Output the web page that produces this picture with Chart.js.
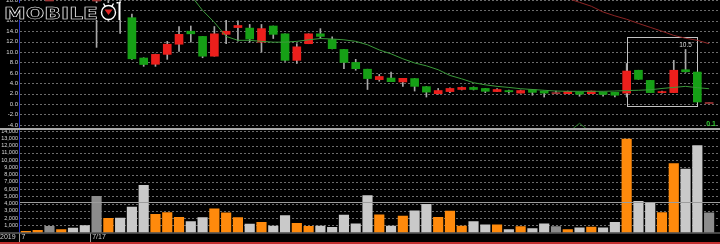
<!DOCTYPE html>
<html>
<head>
<meta charset="utf-8">
<script src="https://cdn.jsdelivr.net/npm/chart.js@4.4.1/dist/chart.umd.min.js"></script>
<style>
html, body { margin: 0; padding: 0; background: #000; }
#wrap { position: relative; width: 720px; height: 244px; overflow: hidden; background: #000; }
#price { position: absolute; left: 0; top: 0; }
#volume { position: absolute; left: 0; top: 130px; }
</style>
</head>
<body>
<div id="wrap">
  <canvas id="price" width="720" height="130"></canvas>
  <canvas id="volume" width="720" height="114"></canvas>
</div>
<script>
const dates = [
  '7/9', '7/10', '7/11', '7/12', '7/15', '7/16', '7/17', '7/18', '7/19', '7/22',
  '7/23', '7/24', '7/25', '7/26', '7/29', '7/30', '7/31', '8/1', '8/2', '8/5',
  '8/6', '8/7', '8/8', '8/9', '8/12', '8/13', '8/14', '8/15', '8/16', '8/19',
  '8/20', '8/21', '8/22', '8/23', '8/26', '8/27', '8/28', '8/29', '8/30', '9/2',
  '9/3', '9/4', '9/5', '9/6', '9/9', '9/10', '9/11', '9/12', '9/16', '9/17',
  '9/18', '9/19', '9/20', '9/23', '9/24', '9/25', '9/26', '9/27', '9/30'
];
const opens = [
  27, 28, 29, 27, 29, 26, 23, 21, 23, 16.6,
  8.85, 7.65, 9.55, 11.5, 14.0, 13.0, 9.2, 13.4, 14.7, 14.6,
  11.9, 15.0, 13.5, 8.4, 11.6, 13.5, 12.4, 10.5, 8.0, 6.7,
  4.7, 5.0, 4.25, 4.9, 3.35, 2.0, 2.4, 2.8, 3.2, 3.0,
  2.4, 2.6, 2.1, 2.75, 2.5, 2.2, 2.0, 2.3, 2.0, 2.25,
  2.25, 2.1, 6.5, 4.55, 2.2, 2.2, 6.6, 6.15, 0.3
];
const closes = [
  29, 30, 29, 29, 26, 24, 23, 23, 20.5, 8.7,
  7.6, 9.55, 11.5, 13.4, 13.5, 9.2, 13.5, 14.0, 15.1, 12.5,
  14.5, 13.4, 8.4, 11.0, 13.5, 13.0, 10.65, 8.0, 6.8, 4.9,
  5.3, 4.3, 4.95, 3.4, 2.3, 2.6, 3.0, 3.2, 2.8, 2.45,
  2.8, 2.35, 2.6, 2.25, 2.1, 2.2, 2.45, 1.9, 2.5, 1.85,
  1.7, 6.35, 4.75, 2.2, 2.4, 6.5, 6.2, 0.4, 0.3
];
const highs = [
  30, 31, 30, 29.5, 29.5, 26.5, 24, 23.5, 24, 17.3,
  8.9, 9.6, 12.05, 14.9, 15.0, 13.0, 14.9, 16.1, 16.0, 15.3,
  15.3, 15.0, 13.5, 11.6, 13.5, 14.5, 12.9, 10.5, 8.6, 6.7,
  5.7, 6.15, 4.95, 4.9, 3.35, 3.0, 3.1, 3.3, 3.3, 3.0,
  3.0, 2.7, 2.7, 2.8, 2.5, 2.5, 2.5, 2.3, 2.5, 2.25,
  2.25, 7.8, 6.5, 4.55, 2.5, 8.4, 10.5, 6.15, 0.3
];
const lows = [
  26, 27, 28, 26.5, 25, 22, 10.9, 15.9, 13.6, 8.6,
  7.25, 7.25, 8.6, 10.1, 11.9, 8.9, 9.2, 11.6, 12.1, 11.9,
  10.0, 12.6, 8.2, 7.8, 11.6, 12.6, 10.6, 6.8, 6.5, 2.8,
  4.4, 4.3, 3.4, 2.5, 1.35, 1.9, 2.2, 2.7, 2.7, 2.2,
  2.4, 2.1, 2.1, 1.7, 1.35, 2.0, 2.0, 1.5, 2.0, 1.5,
  1.35, 1.35, 4.75, 2.2, 2.1, 2.2, 6.1, 0.4, 0.3
];
const volumes = [
  150, 300, 850, 400, 600, 950, 5000, 1950, 2000, 3500,
  6500, 2500, 2750, 2100, 1500, 2050, 3250, 2700, 2050, 1150,
  1400, 900, 2350, 1250, 850, 900, 700, 2400, 1200, 5100,
  2450, 900, 2250, 3000, 3900, 2100, 2950, 900, 1500, 1050,
  1050, 400, 800, 550, 1200, 800, 400, 650, 750, 650,
  1400, 12900, 4300, 4150, 2750, 9500, 8750, 12000, 2700
];
const maShort = [
  null, null, null, null, null, null, null, null, null, null,
  null, null, 26, 23.6, 20.9, 18.0, 15.7, 13.0, 12.25, 12.25,
  12.05, 11.9, 11.9, 12.05, 12.35, 12.6, 12.5, 12.35, 12.05, 11.4,
  10.4, 9.65, 8.7, 7.9, 7.35, 6.6, 5.5, 4.85, 4.1, 3.7,
  3.4, 3.2, 2.95, 2.8, 2.65, 2.5, 2.45, 2.45, 2.45, 2.45,
  2.5, 2.6, 2.65, 2.75, 3.0, 3.2, 3.4, 3.15, 2.95
];
const maLong = [
  null, null, null, null, null, null, null, null, null, null,
  null, null, null, null, null, null, null, null, null, null,
  null, null, null, null, null, null, null, null, null, null,
  null, null, null, null, null, null, null, null, null, null,
  null, null, null, null, null, 21.7, 20.3, 19.55, 18.8, 17.7,
  16.95, 16.3, 15.5, 14.75, 14.0, 13.2, 12.65, 12.25, 11.6
];
const maLower = [
  null, null, null, null, null, null, null, null, null, null,
  null, null, null, null, null, null, null, null, null, null,
  null, null, null, null, null, null, null, null, null, null,
  null, null, null, null, null, null, null, null, null, null,
  null, null, null, null, null, null, -5.5, -3.7, -5.5, null,
  null, null, null, null, null, null, null, null, null
];
const volumeAverage = 4250;
const priceTicks = [-4, -2, 0, 2, 4, 6, 8, 10, 12, 14, 16, 18, 20];
const volumeTicks = [1000, 2000, 3000, 4000, 5000, 6000, 7000, 8000, 9000, 10000, 11000, 12000, 13000, 14000];
const yearLabel = '2019';
const dateTickIdx = [0, 6];
const dateTickText = ['7', '7/17'];
const boxFrom = 51;
const boxTo = 57;
const boxHigh = 12.8;
const boxLow = -0.45;
const highLabelIdx = 56;
const highLabelText = '10.5';
const cornerLabel = '0.1';

const upColor = '#ec1f1c';
const downColor = '#16a016';
const flatColor = '#a03434';
const volUp = '#ff8a0c';
const volDown = '#c9c9c9';
const volFlat = '#8c8c8c';

function direction(i) {
    if (closes[i] > opens[i]) return 'up';
    if (closes[i] < opens[i]) return 'down';
    return 'flat';
}

const bodyColors = dates.map((d, i) => ({ up: upColor, down: downColor, flat: flatColor })[direction(i)]);
const volColors = dates.map((d, i) => ({ up: volUp, down: volDown, flat: volFlat })[direction(i)]);

function fixAxis(s) {
    s.width = 20;
    s.paddingTop = 0;
    s.paddingBottom = 0;
}

// dashed grid + blue axis line, full width to the right edge
function drawGrid(chart) {
    const ctx = chart.ctx;
    const area = chart.chartArea;
    const y = chart.scales.y;
    ctx.save();
    ctx.strokeStyle = '#6c6c6c';
    ctx.lineWidth = 1;
    ctx.setLineDash([2, 2]);
    y.ticks.forEach(t => {
        const py = Math.round(y.getPixelForValue(t.value)) + 0.5;
        ctx.beginPath();
        ctx.moveTo(area.left, py);
        ctx.lineTo(720, py);
        ctx.stroke();
    });
    ctx.setLineDash([]);
    ctx.strokeStyle = '#2233cc';
    ctx.beginPath();
    ctx.moveTo(19.5, 0);
    ctx.lineTo(19.5, area.bottom);
    ctx.stroke();
    ctx.restore();
}

function drawLogo(ctx) {
    ctx.save();
    ctx.fillStyle = '#000';
    ctx.fillRect(0, 3, 123, 17);
    ctx.font = 'bold 15px "DejaVu Sans"';
    const w = ctx.measureText('MOBILE').width;
    ctx.translate(4, 19);
    ctx.scale(94 / w, 1);
    ctx.strokeStyle = '#f4f4f4';
    ctx.lineWidth = 0.55;
    ctx.strokeText('MOBILE', 0, 0);
    ctx.restore();

    ctx.save();
    ctx.strokeStyle = '#fff';
    ctx.lineWidth = 1.4;
    ctx.beginPath();
    ctx.arc(108.5, 12.5, 7, 0, Math.PI * 2);
    ctx.stroke();
    ctx.beginPath();
    ctx.moveTo(103.5, 3.5);
    ctx.lineTo(105.5, 7);
    ctx.moveTo(113.5, 3.5);
    ctx.lineTo(111.5, 7);
    ctx.stroke();
    ctx.fillStyle = '#e02424';
    ctx.beginPath();
    ctx.moveTo(104.5, 9.5);
    ctx.lineTo(112.5, 9.5);
    ctx.lineTo(108.5, 15);
    ctx.closePath();
    ctx.fill();
    ctx.fillStyle = '#fff';
    ctx.fillRect(118.5, 2, 2, 18);
    ctx.fillRect(116.5, 2, 2, 1.5);
    ctx.restore();
}

const pricePlugin = {
    id: 'pricePlugin',
    beforeDatasetsDraw(chart) {
        drawGrid(chart);
        const ctx = chart.ctx;
        const x = chart.scales.x;
        const y = chart.scales.y;
        const x1 = Math.round(x.getPixelForValue(boxFrom)) + 0.5;
        const x2 = Math.round(x.getPixelForValue(boxTo)) + 0.5;
        const y1 = Math.round(y.getPixelForValue(boxHigh)) + 0.5;
        const y2 = Math.round(y.getPixelForValue(boxLow)) + 0.5;
        ctx.save();
        ctx.strokeStyle = '#c4c4c4';
        ctx.lineWidth = 1;
        ctx.strokeRect(x1, y1, x2 - x1, y2 - y1);
        ctx.restore();
    },
    afterDraw(chart) {
        const ctx = chart.ctx;
        const x = chart.scales.x;
        const y = chart.scales.y;
        ctx.save();
        ctx.font = '6.5px "Liberation Sans"';
        ctx.fillStyle = '#d4d4d4';
        ctx.textAlign = 'center';
        ctx.textBaseline = 'bottom';
        ctx.fillText(highLabelText, x.getPixelForValue(highLabelIdx), y.getPixelForValue(highs[highLabelIdx]) - 1);
        ctx.font = 'bold 7px "Liberation Sans"';
        ctx.fillStyle = '#33cc33';
        ctx.textAlign = 'right';
        ctx.textBaseline = 'middle';
        ctx.fillText(cornerLabel, 716, 124);
        ctx.fillStyle = '#aaaaaa';
        ctx.fillRect(0, 128, 720, 2);
        ctx.restore();
        drawLogo(ctx);
    }
};

const volumePlugin = {
    id: 'volumePlugin',
    beforeDatasetsDraw(chart) {
        drawGrid(chart);
    },
    afterDatasetsDraw(chart) {
        const ctx = chart.ctx;
        const x = chart.scales.x;
        const y = chart.scales.y;
        const area = chart.chartArea;
        const step = x.getPixelForValue(1) - x.getPixelForValue(0);
        ctx.save();
        const py = Math.round(y.getPixelForValue(volumeAverage)) + 0.5;
        ctx.strokeStyle = '#9c9c9c';
        ctx.lineWidth = 1;
        ctx.beginPath();
        ctx.moveTo(area.left, py);
        ctx.lineTo(720, py);
        ctx.stroke();

        ctx.fillStyle = '#8a8a8a';
        ctx.fillRect(0, area.bottom, 720, 1);
        ctx.fillStyle = '#c43030';
        ctx.fillRect(0, 112, 720, 2);

        ctx.font = '7px "Liberation Sans"';
        ctx.fillStyle = '#d0d0d0';
        ctx.textBaseline = 'middle';
        ctx.textAlign = 'left';
        ctx.fillText(yearLabel, 0, 107.5);
        ctx.strokeStyle = '#9a9a9a';
        dateTickIdx.forEach((idx, k) => {
            const edge = x.getPixelForValue(idx) - step / 2;
            const lx = Math.round(edge - 1) + 0.5;
            ctx.beginPath();
            ctx.moveTo(lx, area.bottom + 1);
            ctx.lineTo(lx, 112);
            ctx.stroke();
            ctx.fillText(dateTickText[k], edge + 1.5, 107.5);
        });
        ctx.restore();
    }
};

const tickFont = { family: 'Liberation Sans', size: 6 };

new Chart(document.getElementById('price'), {
    type: 'bar',
    data: {
        labels: dates,
        datasets: [
            { type: 'line', data: maShort, borderColor: '#3a9a3a', borderWidth: 1, pointRadius: 0, tension: 0, order: 0 },
            { type: 'line', data: maLong, borderColor: '#8e2424', borderWidth: 1, pointRadius: 0, tension: 0, order: 0 },
            { type: 'line', data: maLower, borderColor: '#2a7a2a', borderWidth: 1, pointRadius: 0, tension: 0, order: 0 },
            { data: lows.map((l, i) => [l, highs[i]]), backgroundColor: '#a8a8a8', barThickness: 1, grouped: false, order: 2 },
            { data: opens.map((o, i) => [o, closes[i]]), backgroundColor: bodyColors, barThickness: 8, minBarLength: 1, grouped: false, order: 1 }
        ]
    },
    options: {
        responsive: false,
        animation: false,
        devicePixelRatio: 1,
        layout: { padding: { left: 0, right: 5, top: 0, bottom: 2 } },
        plugins: { legend: { display: false }, tooltip: { enabled: false } },
        scales: {
            x: { display: false, offset: true },
            y: {
                min: -4.6,
                max: 20,
                afterFit: fixAxis,
                afterBuildTicks: s => { s.ticks = priceTicks.map(v => ({ value: v })); },
                grid: { display: false, drawTicks: false },
                border: { display: false },
                ticks: { color: '#d8d8d8', font: tickFont, padding: 2, autoSkip: false, callback: v => Number(v).toFixed(1) }
            }
        }
    },
    plugins: [pricePlugin]
});

new Chart(document.getElementById('volume'), {
    type: 'bar',
    data: {
        labels: dates,
        datasets: [
            { data: volumes, backgroundColor: volColors, barThickness: 9.5, borderWidth: 0 }
        ]
    },
    options: {
        responsive: false,
        animation: false,
        devicePixelRatio: 1,
        layout: { padding: { left: 0, right: 5, top: 0, bottom: 11.5 } },
        plugins: { legend: { display: false }, tooltip: { enabled: false } },
        scales: {
            x: { display: false, offset: true },
            y: {
                min: 0,
                max: 14140,
                afterFit: fixAxis,
                afterBuildTicks: s => { s.ticks = volumeTicks.map(v => ({ value: v })); },
                grid: { display: false, drawTicks: false },
                border: { display: false },
                ticks: { color: '#d8d8d8', font: { family: 'Liberation Sans', size: 5.5 }, padding: 2, autoSkip: false, callback: v => Number(v).toLocaleString('en-US') }
            }
        }
    },
    plugins: [volumePlugin]
});
</script>
</body>
</html>
